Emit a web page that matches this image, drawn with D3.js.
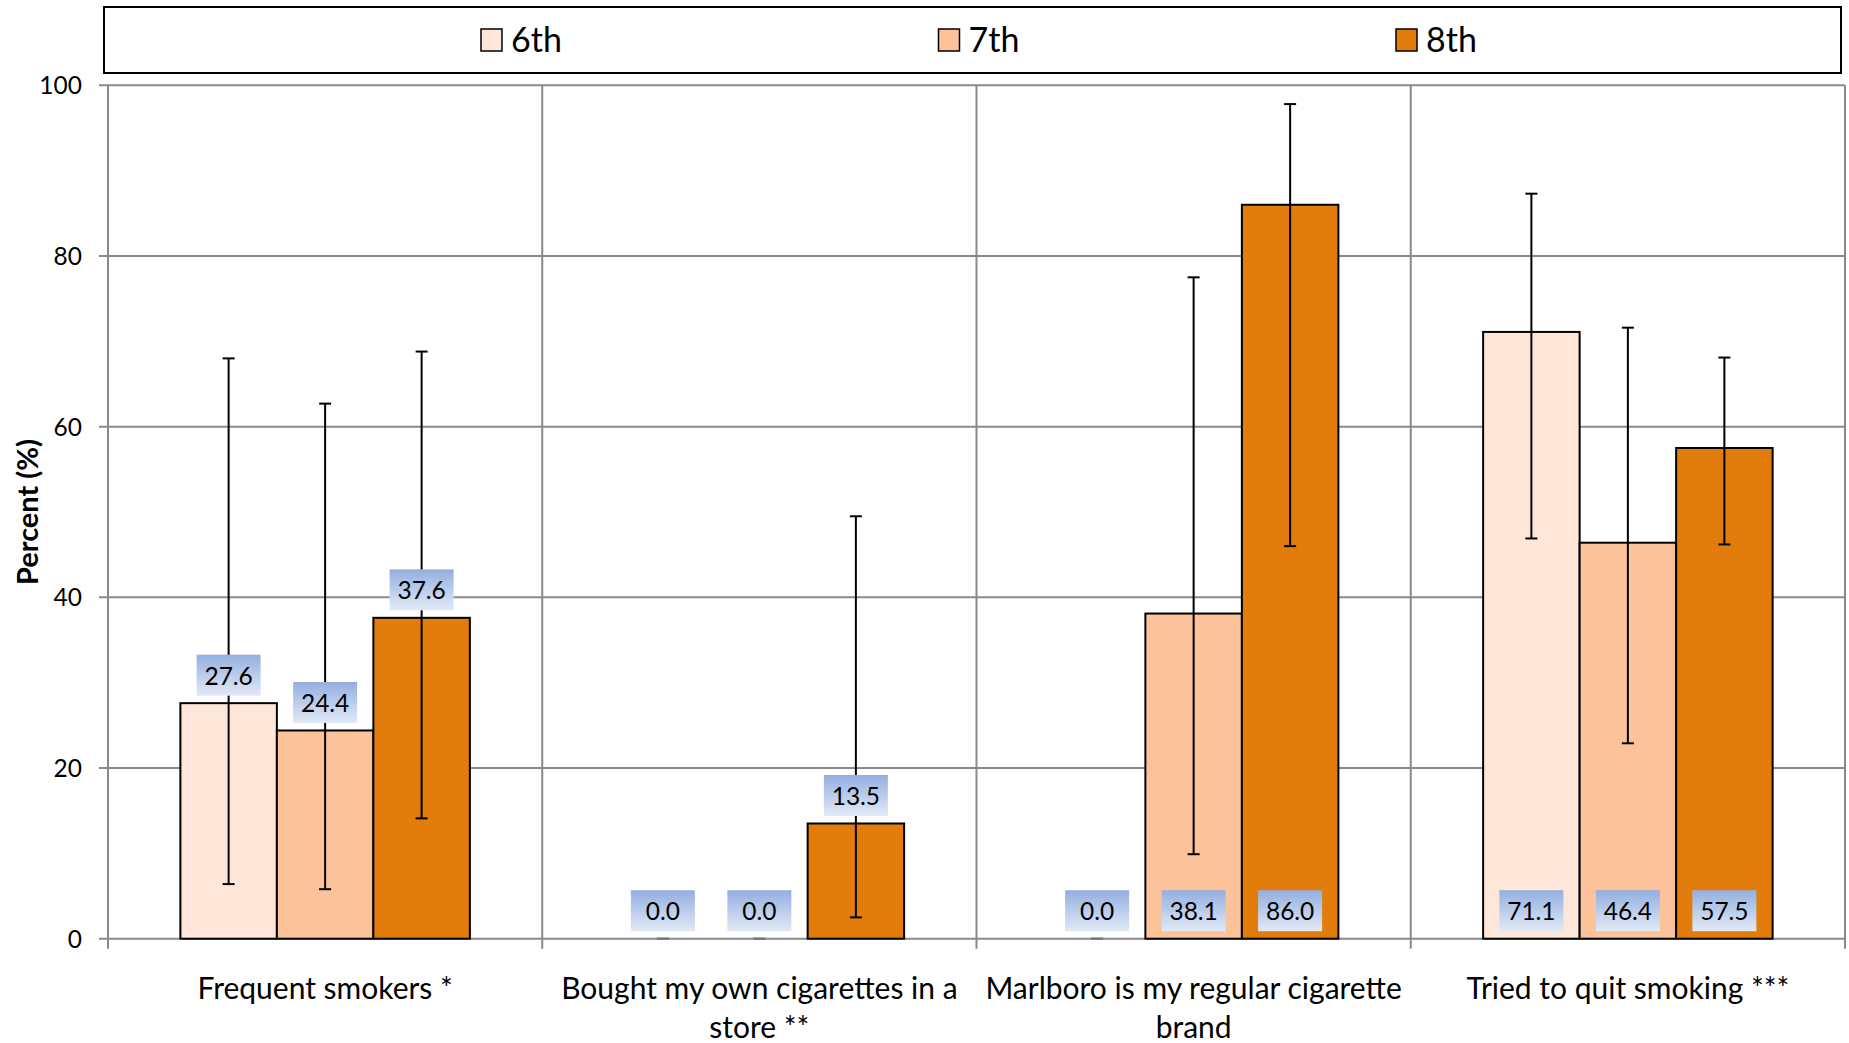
<!DOCTYPE html>
<html>
<head>
<meta charset="utf-8">
<script src="https://cdn.jsdelivr.net/npm/d3@7/dist/d3.min.js"></script>
<style>
  html, body { margin: 0; padding: 0; background: #fff; }
  svg { display: block; font-family: Lato, "Open Sans", sans-serif; }
</style>
</head>
<body>
<svg id="chart" width="1849" height="1043"></svg>
<script>
// ---- data ----
const categories = [
  "Frequent smokers *",
  "Bought my own cigarettes in a store **",
  "Marlboro is my regular cigarette brand",
  "Tried to quit smoking ***"
];
const categoryLines = [
  ["Frequent smokers *"],
  ["Bought my own cigarettes in a", "store **"],
  ["Marlboro is my regular cigarette", "brand"],
  ["Tried to quit smoking ***"]
];
const seriesNames = ["6th", "7th", "8th"];
const values6th = [27.6, 0.0, 0.0, 71.1];
const values7th = [24.4, 0.0, 38.1, 46.4];
const values8th = [37.6, 13.5, 86.0, 57.5];
const lower6th = [6.4, 0.0, 0.0, 46.9];
const upper6th = [68.0, 0.0, 0.0, 87.3];
const lower7th = [5.8, 0.0, 9.9, 22.9];
const upper7th = [62.7, 0.0, 77.5, 71.6];
const lower8th = [14.1, 2.5, 46.0, 46.2];
const upper8th = [68.8, 49.5, 97.8, 68.1];
const labelPlacement = ["end", "end", "base", "base"];
const yTicks = [0, 20, 40, 60, 80, 100];
const yTitle = "Percent (%)";

const colors = ["#FEE6D9", "#FCC39A", "#E27C0A"];

const seriesValues = [values6th, values7th, values8th];
const seriesLower = [lower6th, lower7th, lower8th];
const seriesUpper = [upper6th, upper7th, upper8th];

const rows = [];
categories.forEach((c, ci) => {
  seriesNames.forEach((s, si) => {
    rows.push({
      cat: c, ci, series: s, si,
      value: seriesValues[si][ci],
      lo: seriesLower[si][ci],
      hi: seriesUpper[si][ci]
    });
  });
});

// ---- layout ----
const svg = d3.select("#chart");
const plot = { left: 108, right: 1845, top: 85.3, bottom: 938.7 };

const x = d3.scaleBand().domain(categories).range([plot.left, plot.right]).paddingInner(0).paddingOuter(0);
const xs = d3.scaleBand().domain(seriesNames).range([0, x.bandwidth()]).paddingInner(0).paddingOuter(0.75);
const y = d3.scaleLinear().domain([0, 100]).range([plot.bottom, plot.top]);

const defs = svg.append("defs");
const grad = defs.append("linearGradient").attr("id", "lblGrad")
  .attr("x1", 0).attr("y1", 0).attr("x2", 0).attr("y2", 1);
grad.append("stop").attr("offset", "0%").attr("stop-color", "#93AFE0");
grad.append("stop").attr("offset", "100%").attr("stop-color", "#E2E9F6");

const gridColor = "#8A8A8A";

// horizontal gridlines (with left tick extension)
svg.append("g").selectAll("line").data(yTicks).join("line")
  .attr("x1", plot.left - 9).attr("x2", plot.right)
  .attr("y1", d => y(d)).attr("y2", d => y(d))
  .attr("stroke", gridColor).attr("stroke-width", 2);

// vertical category separators (with bottom tick extension)
const bounds = categories.map(c => x(c)).concat([plot.right]);
svg.append("g").selectAll("line").data(bounds).join("line")
  .attr("x1", d => d).attr("x2", d => d)
  .attr("y1", plot.top).attr("y2", plot.bottom + 10)
  .attr("stroke", gridColor).attr("stroke-width", 2);

// y tick labels via axis
const yAxis = d3.axisLeft(y).tickValues(yTicks).tickSize(0).tickPadding(0);
const ya = svg.append("g").attr("transform", `translate(${plot.left - 26},0)`).call(yAxis);
ya.select(".domain").remove();
ya.selectAll("text").attr("font-size", 24.5).attr("fill", "#000")
  .attr("font-family", "Lato, sans-serif").attr("dy", "0.35em");

// y title
svg.append("text")
  .attr("transform", `translate(26,${(plot.top + plot.bottom) / 2}) rotate(-90)`)
  .attr("text-anchor", "middle").attr("dominant-baseline", "central")
  .attr("font-size", 29).attr("font-weight", "bold").attr("fill", "#000")
  .text(yTitle);

// bars
svg.append("g").selectAll("rect").data(rows.filter(d => d.value > 0)).join("rect")
  .attr("x", d => x(d.cat) + xs(d.series))
  .attr("width", xs.bandwidth())
  .attr("y", d => y(d.value))
  .attr("height", d => y(0) - y(d.value))
  .attr("fill", d => colors[d.si])
  .attr("stroke", "#000").attr("stroke-width", 2);

// error bars
const eb = svg.append("g").attr("stroke", "#000").attr("stroke-width", 2);
const cx = d => x(d.cat) + xs(d.series) + xs.bandwidth() / 2;
eb.selectAll("line.v").data(rows).join("line").attr("class", "v")
  .attr("x1", cx).attr("x2", cx)
  .attr("y1", d => y(d.lo)).attr("y2", d => y(d.hi));
eb.selectAll("line.t").data(rows).join("line").attr("class", "t")
  .attr("x1", d => cx(d) - 6).attr("x2", d => cx(d) + 6)
  .attr("y1", d => y(d.hi)).attr("y2", d => y(d.hi))
  .attr("stroke", d => d.hi === 0 ? "#777" : "#000");
eb.selectAll("line.b").data(rows).join("line").attr("class", "b")
  .attr("x1", d => cx(d) - 6).attr("x2", d => cx(d) + 6)
  .attr("y1", d => y(d.lo)).attr("y2", d => y(d.lo))
  .attr("stroke", d => d.lo === 0 ? "#777" : "#000");

// data labels
const boxW = 64, boxH = 41, gap = 7.5;
const lbl = svg.append("g").selectAll("g").data(rows).join("g")
  .attr("transform", d => {
    const base = labelPlacement[d.ci] === "end" ? y(d.value) : y(0);
    return `translate(${cx(d)},${base - gap - boxH})`;
  });
lbl.append("rect").attr("x", -boxW / 2).attr("width", boxW).attr("height", boxH)
  .attr("fill", "url(#lblGrad)");
lbl.append("text").attr("x", 0).attr("y", boxH / 2)
  .attr("text-anchor", "middle").attr("dominant-baseline", "central")
  .attr("font-size", 24.5).attr("fill", "#000")
  .text(d => d.value.toFixed(1));

// category labels
const cl = svg.append("g").selectAll("text").data(categories).join("text")
  .attr("text-anchor", "middle").attr("font-size", 30).attr("fill", "#000");
cl.selectAll("tspan").data((d, i) => categoryLines[i].map(t => ({ t, c: d }))).join("tspan")
  .attr("x", d => x(d.c) + x.bandwidth() / 2)
  .attr("y", (d, i) => 999 + i * 38.5)
  .text(d => d.t);

// legend
svg.append("rect").attr("x", 104).attr("y", 7).attr("width", 1737).attr("height", 66)
  .attr("fill", "#fff").attr("stroke", "#000").attr("stroke-width", 2);
const legX = d3.scalePoint().domain(seriesNames).range([481, 1396]);
const lg = svg.append("g").selectAll("g").data(seriesNames).join("g")
  .attr("transform", d => `translate(${legX(d)},29)`);
lg.append("rect").attr("width", 21).attr("height", 22)
  .attr("fill", (d, i) => colors[i]).attr("stroke", "#000").attr("stroke-width", 1.5);
lg.append("text").attr("x", 30).attr("y", 9).attr("dominant-baseline", "central")
  .attr("font-size", 34).attr("fill", "#000").text(d => d);
</script>
</body>
</html>
